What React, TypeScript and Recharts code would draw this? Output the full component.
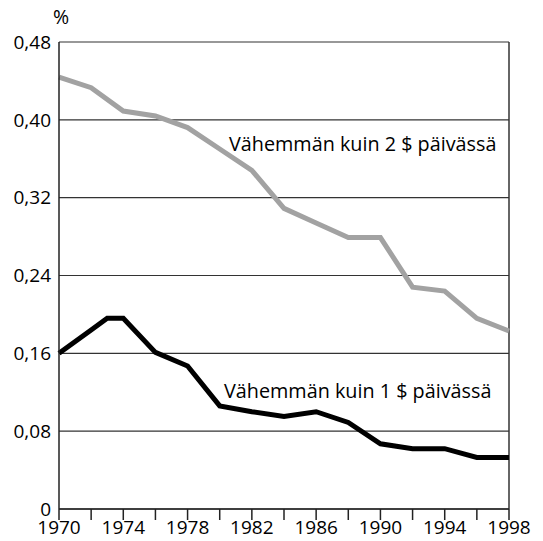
import {
  LineChart,
  Line,
  XAxis,
  YAxis,
  CartesianGrid,
  ReferenceLine,
} from "recharts";

const years = [1970, 1972, 1973, 1974, 1976, 1978, 1980, 1982, 1984, 1986, 1988, 1990, 1992, 1994, 1996, 1998];
const underTwo = [0.444, 0.433, null, 0.409, 0.404, 0.392, 0.37, 0.348, 0.309, 0.294, 0.279, 0.279, 0.228, 0.224, 0.196, 0.183];
const underOne = [0.16, 0.184, 0.196, 0.196, 0.161, 0.147, 0.106, 0.1, 0.095, 0.1, 0.089, 0.067, 0.062, 0.062, 0.053, 0.053];
const xTicks = [1970, 1972, 1974, 1976, 1978, 1980, 1982, 1984, 1986, 1988, 1990, 1992, 1994, 1996, 1998];
const yTicks = [0, 0.08, 0.16, 0.24, 0.32, 0.4, 0.48];

const data = years.map((year, i) => ({ year, two: underTwo[i], one: underOne[i] }));

const font = "'Open Sans', sans-serif";
const tickStyle = { fill: "#000", fontSize: 19, fontFamily: font };

export default function App() {
  return (
    <div style={{ position: "absolute", left: 0, top: 0, width: 543, height: 541, fontFamily: font }}>
      <div style={{ position: "absolute", left: 53, top: 4, fontSize: 19.5, lineHeight: "26px" }}>%</div>
      <LineChart width={543} height={541} data={data} margin={{ top: 42, right: 34, bottom: 0, left: 0 }}>
        <CartesianGrid horizontal vertical={false} stroke="#333" strokeWidth={1.2} />
        <XAxis
          dataKey="year"
          type="number"
          domain={[1970, 1998]}
          ticks={xTicks}
          interval={0}
          height={32}
          tickSize={11}
          tickMargin={1}
          fontSize={19}
          tick={tickStyle}
          tickFormatter={(v: number) => ((v - 1970) % 4 === 0 ? String(v) : "")}
          axisLine={{ stroke: "#222", strokeWidth: 1.5 }}
          tickLine={{ stroke: "#222", strokeWidth: 1.5 }}
        />
        <YAxis
          domain={[0, 0.48]}
          ticks={yTicks}
          interval={0}
          width={59}
          tickLine={false}
          fontSize={19}
          tick={tickStyle}
          tickFormatter={(v: number) => (v === 0 ? "0" : v.toFixed(2).replace(".", ","))}
          axisLine={{ stroke: "#222", strokeWidth: 1.5 }}
        />
        <ReferenceLine x={1998} stroke="#333" strokeWidth={1.5} />
        <Line
          dataKey="two"
          stroke="#a2a2a2"
          strokeWidth={5}
          dot={false}
          connectNulls
          isAnimationActive={false}
        />
        <Line
          dataKey="one"
          stroke="#000"
          strokeWidth={5}
          dot={false}
          isAnimationActive={false}
        />
      </LineChart>
      <div style={{ position: "absolute", left: 229, top: 131, fontSize: 19.8, lineHeight: "26px", whiteSpace: "nowrap" }}>
        Vähemmän kuin 2 $ päivässä
      </div>
      <div style={{ position: "absolute", left: 224, top: 378, fontSize: 19.8, lineHeight: "26px", whiteSpace: "nowrap" }}>
        Vähemmän kuin 1 $ päivässä
      </div>
    </div>
  );
}
